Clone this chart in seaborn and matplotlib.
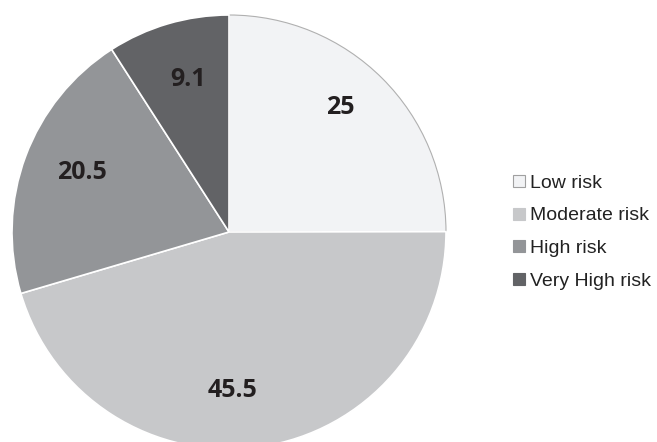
import matplotlib
matplotlib.use("Agg")
import matplotlib.pyplot as plt
from matplotlib.lines import Line2D
import numpy as np
import seaborn as sns

# data
categories = ["Low risk", "Moderate risk", "High risk", "Very High risk"]
values = [25, 45.5, 20.5, 9.1]
labels = ["25", "45.5", "20.5", "9.1"]
colors = ["#f2f3f5", "#c7c8ca", "#939598", "#626366"]

# label placement tweaks (radius fraction, angle shift in degrees)
label_r = [0.77, 0.73, 0.73, 0.73]
label_shift = [3, -7, -1.5, -1.3]

sns.set_style("white")
plt.rcParams['font.family'] = ['Liberation Sans', 'DejaVu Sans']

fig = plt.figure(figsize=(6.57, 4.42), dpi=100)
# pie centre at (229, 232) px, radius 217 px
cx, cy, r = 229, 232, 217
W, H = 657, 442
ax = fig.add_axes([(cx - r) / W, (H - cy - r) / H, 2 * r / W, 2 * r / H])

pal = sns.color_palette(colors)
wedges, _ = ax.pie(values, colors=pal, startangle=90, counterclock=False,
                   wedgeprops=dict(edgecolor="white", linewidth=1.2))
wedges[0].set_edgecolor("#b0b0b0")
wedges[0].set_linewidth(0.8)

for w, lab, lr, sh in zip(wedges, labels, label_r, label_shift):
    ang = np.deg2rad((w.theta1 + w.theta2) / 2 + sh)
    ax.text(lr * np.cos(ang), lr * np.sin(ang), lab, ha="center", va="center",
            fontsize=18, fontweight="bold", color="#231f20",
            family=["Open Sans", "DejaVu Sans"])

ax.set_xlim(-1, 1)
ax.set_ylim(-1, 1)
ax.axis("off")

handles = []
for i, c in enumerate(colors):
    handles.append(Line2D([], [], marker="s", linestyle="none", markersize=8,
                          markerfacecolor=c,
                          markeredgecolor="#a0a0a0" if i == 0 else c,
                          markeredgewidth=0.8))
fig.legend(handles, categories, loc="center left", bbox_to_anchor=(505 / W, 1 - 232 / H),
           frameon=False, fontsize=14, handlelength=0.6, handletextpad=0.3,
           labelspacing=0.78, borderaxespad=0, labelcolor="#222222")

fig.savefig("out.png", dpi=100)
